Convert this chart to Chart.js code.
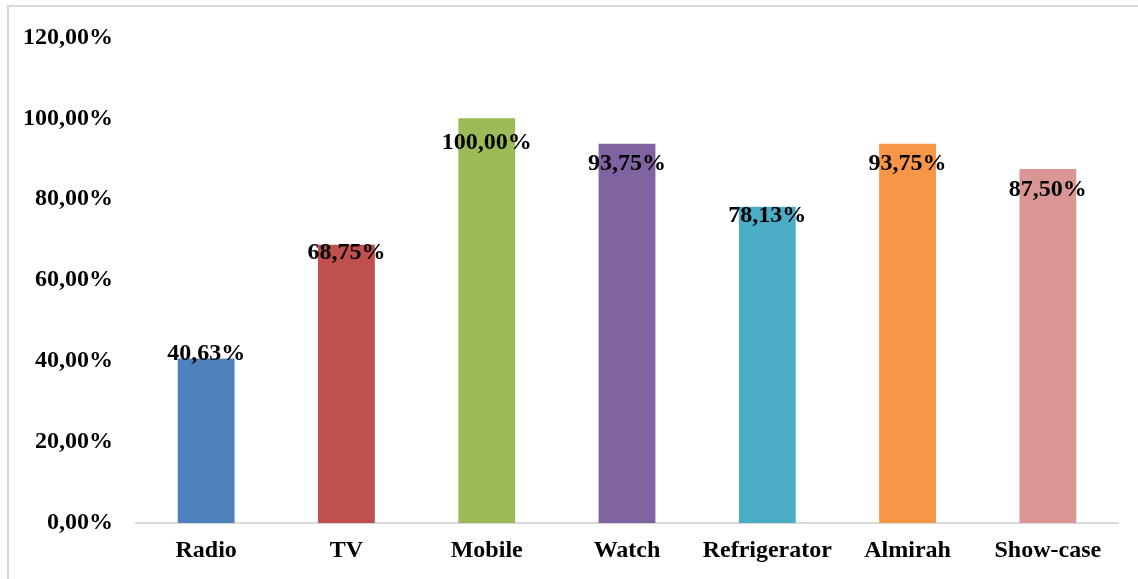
<!DOCTYPE html>
<html>
<head>
<meta charset="utf-8">
<script src="https://cdn.jsdelivr.net/npm/chart.js@4/dist/chart.umd.min.js"></script>
<style>
  html, body { margin: 0; padding: 0; background: #fff; overflow: hidden; }
  #frame { position: absolute; left: 7px; top: 5px; width: 1160px; height: 600px; border: 2px solid #d9d9d9; }
  #wrap { position: absolute; left: 0; top: 0; width: 1138px; height: 579px; }
</style>
</head>
<body>
<div id="frame"></div>
<div id="wrap"><canvas id="myChart" width="1138" height="579"></canvas></div>
<script>
var categories = ['Radio', 'TV', 'Mobile', 'Watch', 'Refrigerator', 'Almirah', 'Show-case'];
var values = [40.63, 68.75, 100.00, 93.75, 78.13, 93.75, 87.50];
var tickValues = [0, 20, 40, 60, 80, 100, 120];

var barColors = ['#4f81bd', '#c0504d', '#9bbb59', '#8064a2', '#4bacc6', '#f79646', '#d99694'];
// how far each value label sits below the top of its bar (px)
var labelShift = [-5, 8, 24, 20, 9, 20, 21];

function pct(v) {
    return v.toFixed(2).replace('.', ',') + '%';
}

Chart.defaults.font.family = '"Liberation Serif", "Times New Roman", serif';
Chart.defaults.font.weight = 'bold';
Chart.defaults.font.size = 24;
Chart.defaults.color = '#000';

var valueLabels = {
    id: 'valueLabels',
    afterDatasetsDraw: function (chart) {
        var ctx = chart.ctx;
        var meta = chart.getDatasetMeta(0);
        ctx.save();
        ctx.font = 'bold 24px "Liberation Serif", "Times New Roman", serif';
        ctx.fillStyle = '#000';
        ctx.textAlign = 'center';
        ctx.textBaseline = 'middle';
        meta.data.forEach(function (bar, i) {
            ctx.fillText(pct(values[i]), bar.x, bar.y + labelShift[i]);
        });
        ctx.restore();
    }
};

var element = document.getElementById('myChart').getContext('2d');

var chartData = {
    labels: categories,
    datasets: [{
        data: values,
        backgroundColor: barColors,
        borderWidth: 0,
        categoryPercentage: 1,
        barPercentage: 0.405
    }]
};

var chartOptions = {
    responsive: false,
    animation: false,
    layout: { padding: { top: 34, right: 20, bottom: 0, left: 0 } },
    plugins: { legend: { display: false }, tooltip: { enabled: false } },
    scales: {
        x: {
            grid: { display: false, drawTicks: false },
            border: { display: true, color: '#d9d9d9', width: 2 },
            ticks: { padding: 13 },
            afterFit: function (s) { s.height = 56; }
        },
        y: {
            min: 0,
            max: 120,
            grid: { display: false, drawTicks: false },
            border: { display: false },
            afterBuildTicks: function (s) {
                s.ticks = tickValues.map(function (v) { return { value: v }; });
            },
            ticks: {
                padding: 23,
                callback: function (v) { return pct(v); }
            },
            afterFit: function (s) { s.width = 136; }
        }
    }
};

var chart = new Chart(element, { type: 'bar', data: chartData, options: chartOptions, plugins: [valueLabels] });
</script>
</body>
</html>
